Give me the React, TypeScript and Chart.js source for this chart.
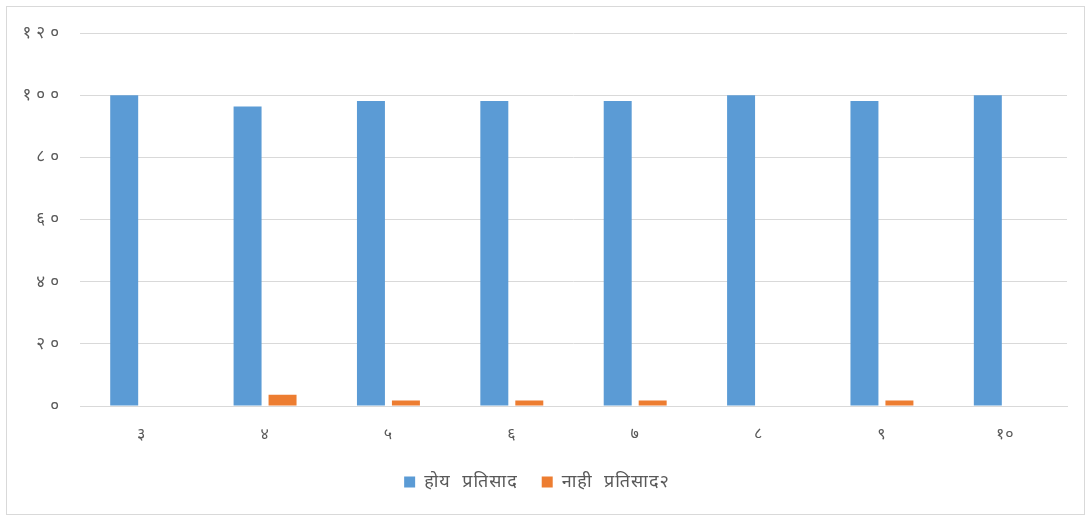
import React, { useEffect, useRef } from "react";
import { Chart, registerables } from "chart.js";

Chart.register(...registerables);

const categories = ["३", "४", "५", "६", "७", "८", "९", "१०"];
const yesValues = [100, 96.4, 98.2, 98.2, 98.2, 100, 98.2, 100];
const noValues = [0, 3.6, 1.8, 1.8, 1.8, 0, 1.8, 0];
const yesLabel = "होय  प्रतिसाद";
const noLabel = "नाही  प्रतिसाद२";
const yTickLabels: Record<number, string> = {
  0: "०",
  20: "२०",
  40: "४०",
  60: "६०",
  80: "८०",
  100: "१००",
  120: "१२०",
};

const spacing = {
  id: "spacing",
  beforeUpdate(chart: any) {
    chart.ctx.letterSpacing = "1px";
  },
  beforeDraw(chart: any) {
    chart.ctx.letterSpacing = "1px";
    const y = chart.scales.y;
    if (y && !y.__wrapped) {
      const orig = y.drawLabels.bind(y);
      y.drawLabels = (area: any) => {
        const ctx = chart.ctx;
        const prev = ctx.letterSpacing;
        ctx.letterSpacing = "5px";
        orig(area);
        ctx.letterSpacing = prev;
      };
      y.__wrapped = true;
    }
  },
};

export default function App() {
  const ref = useRef<HTMLCanvasElement | null>(null);
  useEffect(() => {
    if (!ref.current) return;
    const chart = new Chart(ref.current, {
      type: "bar",
      data: {
        labels: categories,
        datasets: [
          {
            label: yesLabel,
            data: yesValues,
            backgroundColor: "#5b9bd5",
            categoryPercentage: 0.567,
            barPercentage: 0.8,
          },
          {
            label: noLabel,
            data: noValues,
            backgroundColor: "#ed7d31",
            categoryPercentage: 0.567,
            barPercentage: 0.8,
          },
        ],
      },
      plugins: [spacing],
      options: {
        animation: false,
        responsive: false,
        maintainAspectRatio: false,
        layout: { padding: { left: 0, right: 17, top: 25, bottom: 13 } },
        plugins: {
          tooltip: { enabled: false },
          legend: {
            position: "bottom",
            labels: {
              boxWidth: 11,
              boxHeight: 11,
              padding: 24,
              color: "#595959",
              font: { size: 18, family: "'Noto Sans', sans-serif" },
            },
          },
        },
        scales: {
          x: {
            grid: { display: false, drawTicks: false },
            border: { display: true, color: "#d9d9d9", width: 1 },
            ticks: {
              color: "#595959",
              font: { size: 16, family: "'Noto Sans', sans-serif" },
              padding: 19,
              maxRotation: 0,
              minRotation: 0,
            },
            afterFit: (s: any) => {
              s.height = 43;
            },
          },
          y: {
            min: 0,
            max: 120,
            ticks: {
              stepSize: 20,
              color: "#595959",
              font: { size: 17, family: "'Noto Sans', sans-serif" },
              padding: 16,
              callback: (v: any) => yTickLabels[Number(v)] ?? String(v),
            },
            grid: { color: "#d9d9d9", lineWidth: 1, drawTicks: false },
            border: { display: false },
            afterFit: (s: any) => {
              s.width = 73;
            },
          },
        },
      },
    });
    return () => chart.destroy();
  }, []);
  return (
    <div
      style={{
        position: "absolute",
        left: 6,
        top: 6,
        width: 1077,
        height: 507,
        border: "1px solid #d9d9d9",
        background: "#fff",
      }}
    >
      <canvas ref={ref} width={1077} height={507} style={{ display: "block" }} />
    </div>
  );
}
